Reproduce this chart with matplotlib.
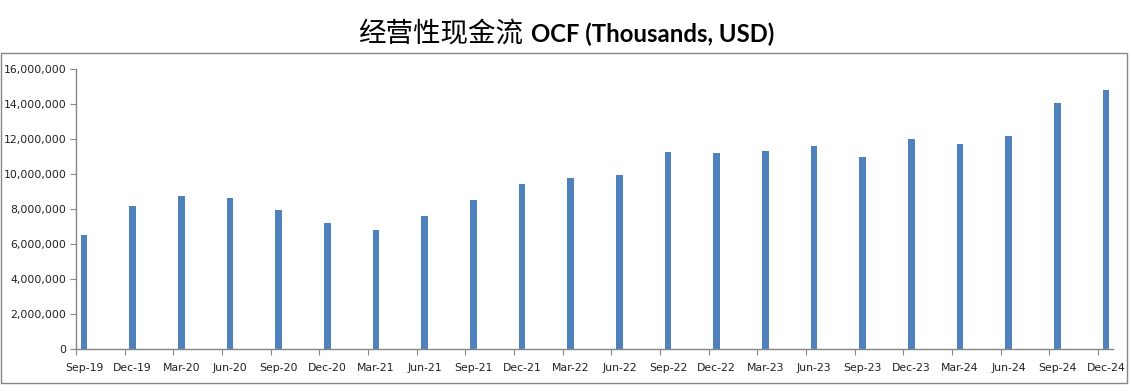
import matplotlib
matplotlib.use("Agg")
import matplotlib.pyplot as plt
from matplotlib.patches import Rectangle
from matplotlib.ticker import FuncFormatter, FixedLocator
import numpy as np

categories = ["Sep-19", "Dec-19", "Mar-20", "Jun-20", "Sep-20", "Dec-20", "Mar-21",
              "Jun-21", "Sep-21", "Dec-21", "Mar-22", "Jun-22", "Sep-22", "Dec-22",
              "Mar-23", "Jun-23", "Sep-23", "Dec-23", "Mar-24", "Jun-24", "Sep-24", "Dec-24"]
ocf = [6520000, 8180000, 8750000, 8640000, 7950000, 7210000, 6830000,
       7610000, 8520000, 9430000, 9780000, 9950000, 11260000, 11200000,
       11320000, 11600000, 10980000, 12000000, 11720000, 12170000, 14060000, 14800000]
yticks = [0, 2000000, 4000000, 6000000, 8000000, 10000000, 12000000, 14000000, 16000000]
title_cn = "经营性现金流"
title_en = "OCF (Thousands, USD)"

W, H = 1131, 391
fig = plt.figure(figsize=(W / 100, H / 100), dpi=100)
fig.patch.set_facecolor("white")

# chart area border
fig.patches.append(Rectangle((0.5 / W, 1 - 383 / H), 1126 / W, 330 / H,
                             transform=fig.transFigure, fill=False,
                             edgecolor="#868686", linewidth=1.0))

ax = fig.add_axes([76 / W, 1 - 349.3 / H, (1113 - 76) / W, (349.3 - 69) / H])
x = np.arange(len(categories))
ax.bar(x, ocf, width=0.135, color="#4F81BD", zorder=2)

off = 0.165
ax.set_xlim(-off, len(categories) - 1 + 0.144)
ax.set_ylim(0, 16000000)

ax.xaxis.set_major_locator(FixedLocator(x - off))
ax.xaxis.set_major_formatter(FuncFormatter(lambda v, p: ""))
ax.set_xticks(x, minor=True)
ax.set_xticklabels(categories, minor=True)
ax.tick_params(axis="x", which="major", direction="out", length=4, color="#868686")
ax.tick_params(axis="x", which="minor", length=0, pad=10, labelsize=7.8, labelcolor="#202020")

ax.set_yticks(yticks)
ax.yaxis.set_major_formatter(FuncFormatter(lambda v, p: f"{int(v):,}"))
ax.tick_params(axis="y", direction="out", length=4, color="#868686", labelsize=7.8,
               labelcolor="#202020", pad=3)

for s in ["top", "right"]:
    ax.spines[s].set_visible(False)
for s in ["left", "bottom"]:
    ax.spines[s].set_color("#868686")
    ax.spines[s].set_linewidth(1.0)

base_y = 1 - 42 / H
fig.text(523 / W, base_y, title_cn, ha="right", va="baseline", fontsize=19.8,
         family=["Noto Sans CJK SC", "DejaVu Sans"], color="black")
fig.text(531 / W, base_y, title_en, ha="left", va="baseline", fontsize=17.2,
         fontweight="bold", family=["Lato", "DejaVu Sans"], color="black")

fig.savefig("out.png", dpi=100, facecolor="white")
